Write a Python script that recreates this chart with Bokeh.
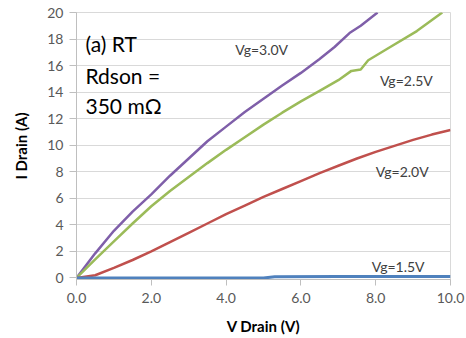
from bokeh.plotting import figure
from bokeh.models import Range1d, FixedTicker, NumeralTickFormatter, Label
from bokeh.embed import file_html
from bokeh.resources import INLINE

# ---- data ----
v_purple = [0, 0.5, 1, 1.5, 2, 2.5, 3, 3.5, 4, 4.5, 5, 5.5, 6, 6.5, 6.9, 7.3, 7.6, 8.05]
i_purple = [0, 1.85, 3.55, 5.0, 6.3, 7.7, 9.0, 10.3, 11.4, 12.5, 13.5, 14.5, 15.45, 16.5, 17.4, 18.45, 19.0, 20.0]

v_green = [0, 0.5, 1, 1.5, 2, 2.5, 3, 3.5, 4, 4.5, 5, 5.5, 6, 6.5, 7, 7.35, 7.6, 7.8, 8.3, 9.1, 9.78]
i_green = [0, 1.4, 2.75, 4.1, 5.4, 6.55, 7.6, 8.65, 9.65, 10.6, 11.55, 12.45, 13.3, 14.1, 14.9, 15.6, 15.7, 16.4, 17.25, 18.6, 20.0]

v_red = [0, 0.5, 1, 1.5, 2, 2.5, 3, 3.5, 4, 4.5, 5, 5.5, 6, 6.5, 7, 7.5, 8, 8.5, 9, 9.5, 10]
i_red = [0, 0.2, 0.75, 1.35, 2.0, 2.7, 3.4, 4.1, 4.8, 5.45, 6.1, 6.7, 7.3, 7.9, 8.45, 9.0, 9.5, 9.95, 10.4, 10.8, 11.15]

v_blue = [0, 2, 4, 5, 5.3, 7, 10]
i_blue = [0, 0, 0, 0.0, 0.08, 0.1, 0.1]

x_ticks = [0, 2, 4, 6, 8, 10]
y_ticks = [0, 2, 4, 6, 8, 10, 12, 14, 16, 18, 20]

series_labels = ["Vg=3.0V", "Vg=2.5V", "Vg=2.0V", "Vg=1.5V"]
note_lines = ["(a) RT", "Rdson =", "350 m\u03a9"]

FONT = "Lato"

p = figure(width=466, height=338, output_backend="svg", toolbar_location=None,
           x_range=Range1d(0, 10), y_range=Range1d(-0.12, 20),
           min_border_left=76, min_border_right=16, min_border_top=12, min_border_bottom=59)
p.background_fill_color = "white"
p.border_fill_color = "white"
p.outline_line_color = "#D9D9D9"
p.outline_line_width = 1

p.xgrid.grid_line_color = None
p.ygrid.grid_line_color = "#D9D9D9"
p.ygrid.grid_line_width = 1

p.xaxis.ticker = FixedTicker(ticks=x_ticks)
p.yaxis.ticker = FixedTicker(ticks=y_ticks)
p.xaxis.formatter = NumeralTickFormatter(format="0.0")
for ax in (p.xaxis, p.yaxis):
    ax.axis_line_color = "#BFBFBF"
    ax.major_tick_line_color = "#BFBFBF"
    ax.minor_tick_line_color = None
    ax.major_tick_in = 0
    ax.major_label_text_font = FONT
    ax.major_label_text_font_size = "14px"
    ax.major_label_text_color = "#595959"
    ax.axis_label_text_font = FONT
    ax.axis_label_text_font_style = "bold"
    ax.axis_label_text_font_size = "15px"
    ax.axis_label_text_color = "#000000"
p.xaxis.major_tick_out = 6
p.yaxis.major_tick_out = 7
p.xaxis.major_label_standoff = 7
p.yaxis.major_label_standoff = 6
p.xaxis.axis_label = "V Drain (V)"
p.yaxis.axis_label = "I Drain (A)"
p.xaxis.axis_label_standoff = 11
p.yaxis.axis_label_standoff = 14

p.line(v_purple, i_purple, line_color="#7F5FA9", line_width=2.5, line_join="round")
p.line(v_green, i_green, line_color="#9BBB59", line_width=2.5, line_join="round")
p.line(v_red, i_red, line_color="#C0504D", line_width=2.5, line_join="round")
p.line(v_blue, i_blue, line_color="#4F81BD", line_width=3, line_join="round")

label_pos = [(4.95, 17.2), (8.82, 14.85), (8.71, 8.0), (8.6, 0.83)]
for txt, (lx, ly) in zip(series_labels, label_pos):
    p.add_layout(Label(x=lx, y=ly, text=txt, text_font=FONT, text_font_size="14px",
                       text_color="#404040", text_align="center", text_baseline="middle"))

note_y = [17.7, 15.25, 13.0]
for txt, ly in zip(note_lines, note_y):
    p.add_layout(Label(x=0.24, y=ly, text=txt, text_font=FONT, text_font_size="21px",
                       text_color="#000000", text_align="left", text_baseline="middle"))

open("out.html", "w").write(file_html(p, INLINE))
